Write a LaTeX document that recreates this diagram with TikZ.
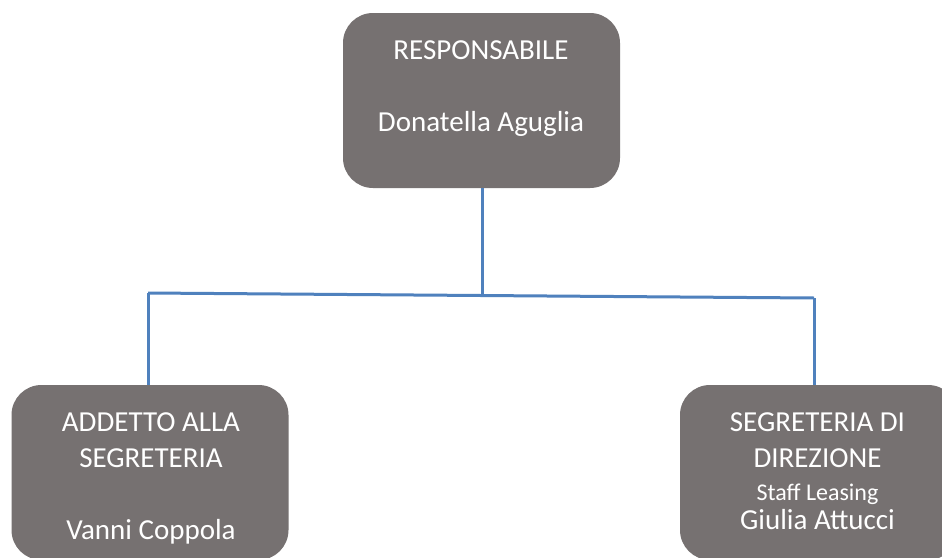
\documentclass[tikz,border=0pt]{standalone}
\usepackage{fontspec}
\setmainfont{Carlito}
\usetikzlibrary{positioning, calc}

\definecolor{boxgray}{RGB}{118,113,113}
\definecolor{linkblue}{RGB}{79,129,189}

\tikzset{
  orgbox/.style={fill=boxgray, rounded corners=30pt, minimum width=277pt,
    minimum height=175pt, inner sep=0pt},
  boxtext/.style={text=white, font=\fontsize{29}{36}\selectfont, align=center,
    inner sep=0pt, anchor=north},
  link/.style={draw=linkblue, line width=3pt}
}

\begin{document}
\begin{tikzpicture}[x=1pt,y=-1pt]
\clip (0,0) rectangle (942,557);
\fill[white] (0,0) rectangle (942,557);
% boxes
\node[orgbox] (resp) at (481.5,100.5) {};
\node[orgbox] (addetto) at (150,472.5) {};
\node[orgbox, minimum width=278pt] (segreteria) at (819,472.5) {};
% texts
\node[boxtext] (respText) at ($(resp.north)+(-0.5,27.5)$)
  {RESPONSABILE\\[36pt]Donatella Aguglia};
\node[boxtext] (addettoText) at ($(addetto.north)+(1,27.5)$)
  {ADDETTO ALLA\\SEGRETERIA\\[36pt]Vanni Coppola};
\node[boxtext] (segreteriaText) at ($(segreteria.north)+(-1.5,27.5)$)
  {SEGRETERIA DI\\DIREZIONE\\[-3pt]{\fontsize{24}{28}\selectfont Staff Leasing}\\[-7pt]Giulia Attucci};
% connectors
\coordinate (busL) at (148,293);
\coordinate (busR) at (814,298);
\coordinate (busM) at (482,295.5);
\draw[link] (busL) -- (busR);
\draw[link] (resp.south -| busM) -- (busM);
\draw[link] (busL) -- (busL |- addetto.north);
\draw[link] (busR) -- (busR |- segreteria.north);
\end{tikzpicture}
\end{document}
